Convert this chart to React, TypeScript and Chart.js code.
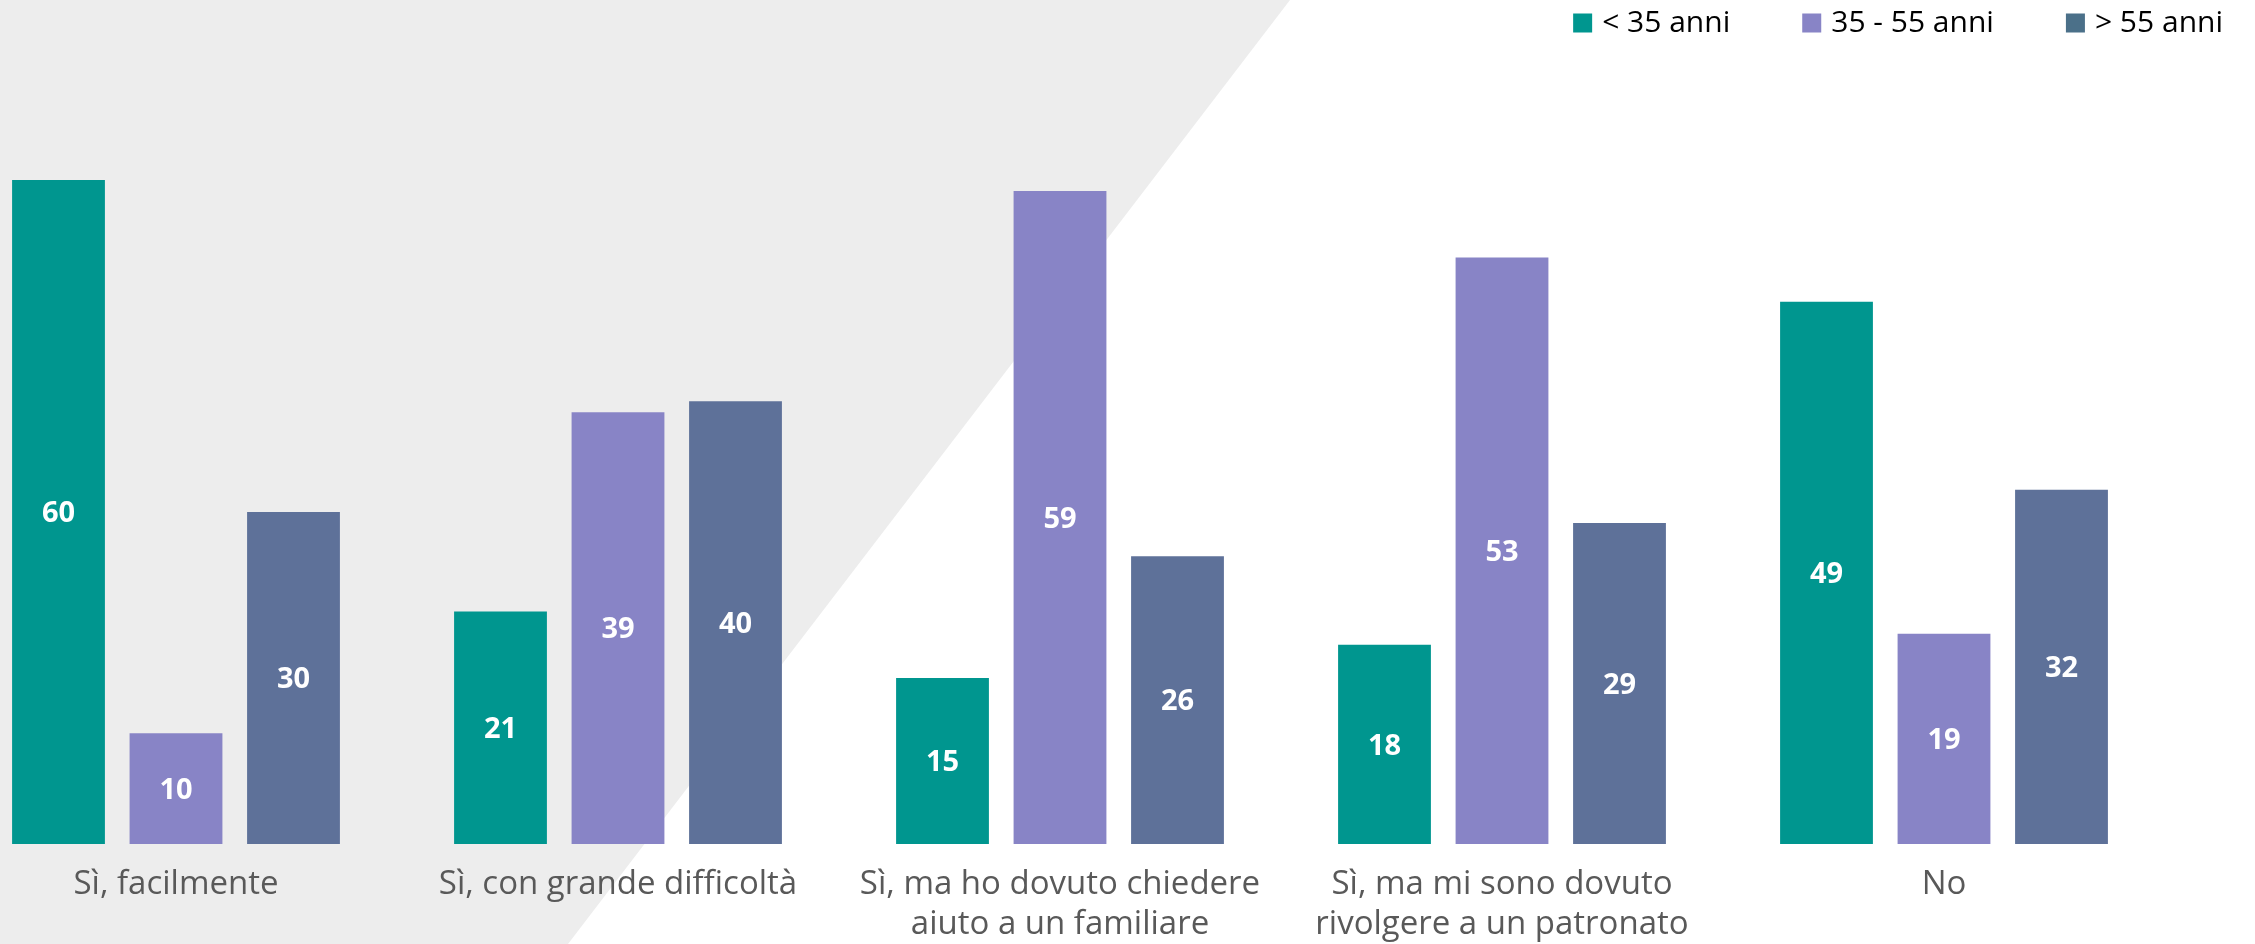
import React, { useEffect, useRef } from "react";
import { Chart, registerables } from "chart.js";

Chart.register(...registerables);

const categories: (string | string[])[] = [
  "Sì, facilmente",
  "Sì, con grande difficoltà",
  ["Sì, ma ho dovuto chiedere", "aiuto a un familiare"],
  ["Sì, ma mi sono dovuto", "rivolgere a un patronato"],
  "No",
];
const seriesNames = ["< 35 anni", "35 - 55 anni", "> 55 anni"];
const under35 = [60, 21, 15, 18, 49];
const from35to55 = [10, 39, 59, 53, 19];
const over55 = [30, 40, 26, 29, 32];
const barColors = ["#00968F", "#8884C6", "#5E7199"];
const legendColors = ["#00968F", "#8884C6", "#4B7089"];

const FONT = "'Open Sans', 'DejaVu Sans', sans-serif";
const OFFSET_X = 45; // canvas shifted left by this many px

const bgPlugin = {
  id: "bgShape",
  beforeDraw(chart: any) {
    const ctx = chart.ctx;
    ctx.save();
    ctx.fillStyle = "#EDEDED";
    ctx.beginPath();
    ctx.moveTo(0, 0);
    ctx.lineTo(1290 + OFFSET_X, 0);
    ctx.lineTo(568 + OFFSET_X, 944);
    ctx.lineTo(0, 944);
    ctx.closePath();
    ctx.fill();
    ctx.restore();
  },
};

const valueLabels = {
  id: "valueLabels",
  afterDatasetsDraw(chart: any) {
    const ctx = chart.ctx;
    ctx.save();
    ctx.fillStyle = "#FFFFFF";
    ctx.font = `bold 29px ${FONT}`;
    ctx.textAlign = "center";
    ctx.textBaseline = "middle";
    chart.data.datasets.forEach((ds: any, i: number) => {
      const meta = chart.getDatasetMeta(i);
      meta.data.forEach((bar: any, j: number) => {
        const cy = (bar.y + bar.base) / 2;
        ctx.fillText(String(ds.data[j]), bar.x, cy + 2);
      });
    });
    ctx.restore();
  },
};

const customLegend = {
  id: "customLegend",
  afterDraw(chart: any) {
    const ctx = chart.ctx;
    ctx.save();
    ctx.font = `30px ${FONT}`;
    ctx.textBaseline = "middle";
    ctx.textAlign = "left";
    const box = 19;
    const gapBoxText = 10;
    const gapItems = 72;
    const rightEdge = 2223 + OFFSET_X;
    const items = chart.data.datasets.map((ds: any, i: number) => ({
      label: ds.label,
      color: legendColors[i],
      w: ctx.measureText(ds.label).width,
    }));
    let total = 0;
    items.forEach((it: any, i: number) => {
      total += box + gapBoxText + it.w + (i < items.length - 1 ? gapItems : 0);
    });
    let x = rightEdge - total;
    const cy = 23;
    items.forEach((it: any) => {
      ctx.fillStyle = it.color;
      ctx.fillRect(x, cy - box / 2, box, box);
      x += box + gapBoxText;
      ctx.fillStyle = "#000000";
      ctx.fillText(it.label, x, cy);
      x += it.w + gapItems;
    });
    ctx.restore();
  },
};

export default function App() {
  const ref = useRef<HTMLCanvasElement | null>(null);
  useEffect(() => {
    if (!ref.current) return;
    const data = [under35, from35to55, over55];
    const chart = new Chart(ref.current, {
      type: "bar",
      data: {
        labels: categories,
        datasets: data.map((d, i) => ({
          label: seriesNames[i],
          data: d,
          backgroundColor: barColors[i],
          borderWidth: 0,
          categoryPercentage: 0.7975,
          barPercentage: 0.79,
        })),
      },
      options: {
        animation: false,
        responsive: false,
        maintainAspectRatio: false,
        layout: { padding: { left: 0, right: 2255 + OFFSET_X - 2210, top: 0, bottom: 0 } },
        plugins: {
          legend: { display: false },
          tooltip: { enabled: false },
          title: { display: false },
        },
        scales: {
          x: {
            grid: { display: false, drawTicks: false },
            border: { display: false },
            ticks: {
              color: "#595959",
              font: { family: FONT, size: 33, lineHeight: 1.21 },
              padding: 21,
              maxRotation: 0,
              autoSkip: false,
            },
            afterFit(scale: any) {
              scale.height = 100;
            },
          },
          y: {
            display: false,
            min: 0,
            max: 76.26,
          },
        },
      },
      plugins: [bgPlugin, valueLabels, customLegend],
    });
    return () => chart.destroy();
  }, []);
  return (
    <div
      style={{
        position: "absolute",
        left: -OFFSET_X,
        top: 0,
        width: 2255 + OFFSET_X,
        height: 944,
        background: "#FFFFFF",
      }}
    >
      <canvas ref={ref} width={2255 + OFFSET_X} height={944} style={{ display: "block" }} />
    </div>
  );
}
